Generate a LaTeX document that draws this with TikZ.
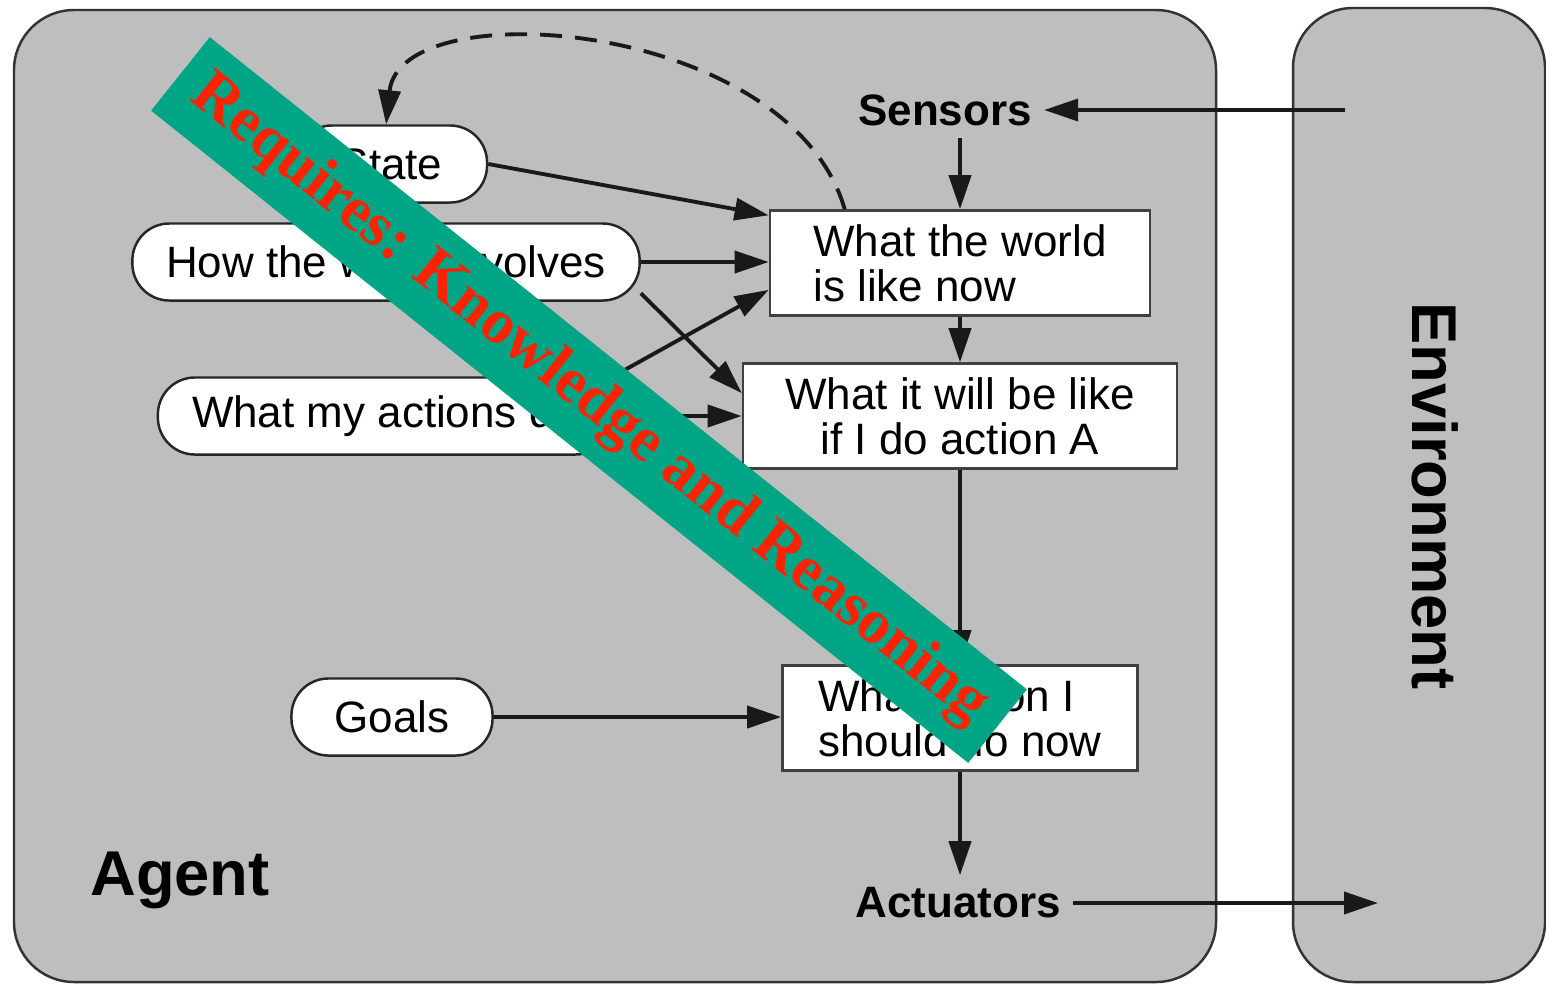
\documentclass[tikz,border=0pt]{standalone}
\usepackage{fontspec}
\setmainfont{Liberation Sans}
\newfontfamily\bannerfont{Liberation Serif}
\usetikzlibrary{arrows.meta}
\definecolor{panelgray}{RGB}{190,190,190}
\definecolor{bannergreen}{RGB}{0,165,133}
\definecolor{bannerred}{RGB}{255,34,0}
\begin{document}
\begin{tikzpicture}[
    x=0.01cm, y=-0.01cm,
    panel/.style={draw=black!80, line width=0.7pt, fill=panelgray, rounded corners=0.6cm},
    pill/.style={rectangle, draw=black!85, line width=0.7pt, fill=white, rounded corners=0.37cm, minimum height=0.77cm, font=\fontsize{12.5}{13}\selectfont},
    box/.style={rectangle, draw=black!75, line width=0.7pt, fill=white, minimum height=1.05cm, font=\fontsize{12.5}{12.8}\selectfont},
    port/.style={font=\bfseries\fontsize{12.5}{13}\selectfont},
    title/.style={font=\bfseries\fontsize{18}{18}\selectfont},
    flow/.style={line width=1.1pt, draw=black!90, -{Triangle[length=3.4mm,width=2.2mm]}},
    banner/.style={rotate=-38.6, fill=bannergreen, text=bannerred, minimum width=10.45cm, minimum height=0.94cm, inner sep=0pt, font=\bannerfont\bfseries\fontsize{18}{18}\selectfont}
  ]
    \fill[white] (0,0) rectangle (1546,984);
    \useasboundingbox (0,0) rectangle (1546,984);

    % Agent and environment
    \draw[panel] (14,10) rectangle (1216,982);
    \draw[panel] (1293,8) rectangle (1545,982);
    \node[title] (agent) at (180,880) {Agent};
    \node[title, rotate=-90] (env) at (1435,496) {Environment};

    % Sensors and actuators
    \node[port] (sensors) at (945,110) {Sensors};
    \node[port] (actuators) at (958,903) {Actuators};
    \coordinate (sensin) at (1345,110);
    \coordinate (actout) at (1378,903);

    % Internal state
    \node[pill, minimum width=1.92cm] (state) at (391,164) {State};
    \node[pill, minimum width=5.07cm] (how) at (386,262) {How the world evolves};
    \node[pill, minimum width=4.54cm] (acts) at (385,416) {What my actions do};
    \node[pill, minimum width=2.01cm] (goals) at (392,717) {Goals};

    % Reasoning steps
    \node[box, minimum width=3.8cm, align=left] (now) at (960,263) {What the world\\is like now};
    \node[box, minimum width=4.34cm, align=center] (will) at (960,416) {What it will be like\\if I do action A};
    \node[box, minimum width=3.55cm, align=left] (act) at (960,718) {What action I\\should do now};

    % Connections
    \draw[flow] (sensin) -- (sensors.east);
    \draw[flow] (now.north |- sensors.south) -- (now.north);
    \draw[flow] (now.south) -- (will.north);
    \draw[flow] (will.south) -- (act.north);
    \draw[flow] (act.south) -- (act.south |- actuators.north);
    \draw[flow] (actuators.east) -- (actout);
    \draw[flow] (state.east) -- (now.166);
    \draw[flow] (how.east) -- (how.east -| now.west);
    \draw[flow] (how.-7) -- (will.174);
    \draw[flow] (acts.north east) -- (now.188);
    \draw[flow] (acts.east) -- (acts.east -| will.west);
    \draw[flow] (goals.east) -- (goals.east -| act.west);
    \draw[flow, dash pattern=on 0.22cm off 0.13cm] (now.155) .. controls (790,20) and (400,-10) .. (state.97);

    % Overlay
    \node[banner] (note) at (589,400) {Requires: Knowledge and Reasoning};
\end{tikzpicture}
\end{document}
